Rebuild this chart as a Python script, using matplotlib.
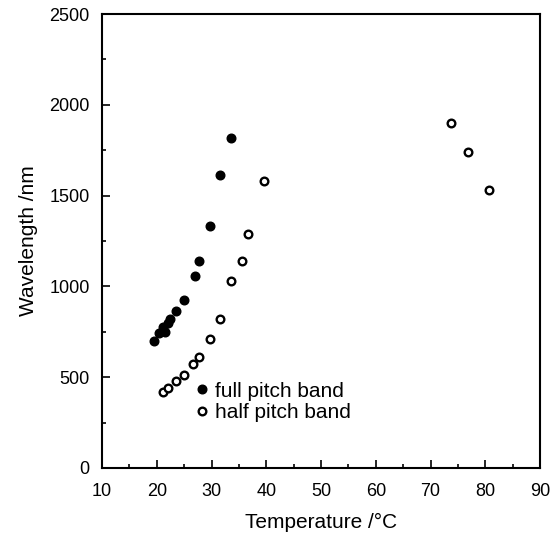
import matplotlib
matplotlib.use('Agg')
from matplotlib import pyplot as plt
from matplotlib.ticker import MultipleLocator

plt.rcParams['font.family'] = ['Liberation Sans', 'DejaVu Sans']

# full pitch band (filled circles)
full_T = [19.5, 20.5, 21.5, 21.2, 22.1, 22.5, 23.6, 25.0, 26.9, 27.8, 29.7, 31.6, 33.6]
full_wl = [702, 745, 747, 778, 797, 819, 865, 928, 1059, 1140, 1333, 1615, 1819]

# half pitch band (open circles)
half_T = [21.2, 22.1, 23.5, 24.9, 26.7, 27.8, 29.7, 31.6, 33.6, 35.6, 36.7, 39.5,
          73.7, 76.9, 80.7]
half_wl = [420, 439, 481, 512, 573, 613, 710, 820, 1031, 1140, 1290, 1582,
           1898, 1742, 1529]

fig = plt.figure(figsize=(5.58, 5.34), dpi=100)
ax = fig.add_axes([0.1828, 0.1236, 0.785, 0.850])

ax.plot(full_T, full_wl, 'o', color='k', markersize=6.2, label='full pitch band')
ax.plot(half_T, half_wl, 'o', color='k', markerfacecolor='white',
        markeredgewidth=1.7, markersize=5.5, label='half pitch band')

ax.set_xlim(10, 90)
ax.set_ylim(0, 2500)
ax.xaxis.set_major_locator(MultipleLocator(10))
ax.xaxis.set_minor_locator(MultipleLocator(5))
ax.yaxis.set_major_locator(MultipleLocator(500))
ax.yaxis.set_minor_locator(MultipleLocator(250))
ax.tick_params(which='both', direction='in', top=False, right=False,
               labelsize=13, width=1.2)
ax.tick_params(which='major', length=6)
ax.tick_params(which='minor', length=3)
ax.tick_params(axis='x', which='major', pad=11)
ax.tick_params(axis='y', which='major', pad=9)
for s in ax.spines.values():
    s.set_linewidth(1.5)

ax.set_xlabel('Temperature /\u00b0C', fontsize=15, labelpad=9)
ax.set_ylabel('Wavelength /nm', fontsize=15, labelpad=8)

ax.legend(loc='upper left', bbox_to_anchor=(0.209, 0.19), frameon=False,
          fontsize=15, borderpad=0, borderaxespad=0, handlelength=0.8,
          handletextpad=0.25, labelspacing=0.1)

fig.savefig('out.png', dpi=100)
